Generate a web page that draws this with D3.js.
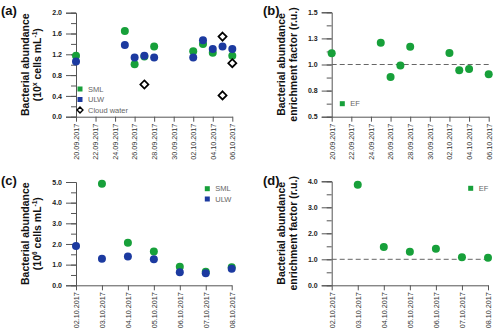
<!DOCTYPE html>
<html>
<head>
<meta charset="utf-8">
<script src="https://cdn.jsdelivr.net/npm/d3@7"></script>
<style>
  body { margin: 0; background: #fff; }
  svg { font-family: 'Liberation Sans', Arial, sans-serif; }
</style>
</head>
<body>
<svg id="chart"></svg>
<script>
// panel (a) / (b): 20.09 - 06.10.2017
const datesA = ['2017-09-20', '2017-09-25', '2017-09-26', '2017-09-27', '2017-09-28', '2017-10-02', '2017-10-03', '2017-10-04', '2017-10-05', '2017-10-06']
const smlA = [1.17, 1.65, 1.01, 1.16, 1.35, 1.26, 1.40, 1.23, null, 1.17]
const ulwA = [1.06, 1.38, 1.14, 1.17, 1.14, 1.14, 1.47, 1.30, 1.35, 1.30]
const cloudDates = ['2017-09-27', '2017-10-05', '2017-10-05', '2017-10-06']
const cloudA = [0.62, 1.54, 0.41, 1.03]
const efDatesB = ['2017-09-20', '2017-09-25', '2017-09-26', '2017-09-27', '2017-09-28', '2017-10-02', '2017-10-03', '2017-10-04', '2017-10-06']
const efB = [1.107, 1.209, 0.88, 0.99, 1.17, 1.11, 0.944, 0.957, 0.906]
const ticksA = ['2017-09-20', '2017-09-22', '2017-09-24', '2017-09-26', '2017-09-28', '2017-09-30', '2017-10-02', '2017-10-04', '2017-10-06']

// panel (c) / (d): 02.10 - 08.10.2017
const datesC = ['2017-10-02', '2017-10-03', '2017-10-04', '2017-10-05', '2017-10-06', '2017-10-07', '2017-10-08']
const smlC = [null, 4.92, 2.06, 1.63, 0.90, 0.65, 0.87]
const ulwC = [1.90, 1.29, 1.39, 1.26, 0.63, 0.58, 0.80]
const efDatesD = ['2017-10-03', '2017-10-04', '2017-10-05', '2017-10-06', '2017-10-07', '2017-10-08']
const efD = [3.87, 1.47, 1.29, 1.41, 1.08, 1.06]

const yTicksA = [0, 0.4, 0.8, 1.2, 1.6, 2.0]
const yTicksB = [0.5, 0.75, 1.0, 1.25, 1.5]
const yTicksC = [0, 1, 2, 3, 4, 5]
const yTicksD = [0, 1, 2, 3, 4]

const colours = {
  green: '#17a03a',
  blue: '#1c3aa0',
  axis: '#555555',
  text: '#333333',
  legend: '#666666'
}

const width = 500
const height = 336
const parse = d3.timeParse('%Y-%m-%d')
const fmtDate = d3.timeFormat('%d.%m.%Y')
const fmtY = d3.format('.1f')

const svg = d3.select('#chart')
  .attr('width', width)
  .attr('height', height)

const drawPanel = (p) => {
  const g = svg.append('g')
  const x = d3.scaleTime().domain(p.xDomain.map(parse)).range([p.left, p.right])
  const y = d3.scaleLinear().domain(p.yDomain).range([p.bottom, p.top])

  // minor y ticks
  const minor = d3.range(p.yDomain[0], p.yDomain[1] + 1e-9, p.yMinor)
  g.append('g')
    .attr('transform', `translate(${p.left},0)`)
    .call(d3.axisLeft(y).tickValues(minor).tickSize(5).tickFormat(''))
    .call(a => a.select('.domain').remove())
    .call(a => a.selectAll('line').attr('stroke', colours.axis))

  // major y ticks
  g.append('g')
    .attr('transform', `translate(${p.left},0)`)
    .call(d3.axisLeft(y).tickValues(p.yTicks).tickSize(10).tickPadding(4).tickFormat(fmtY))
    .call(a => a.select('.domain').attr('stroke', colours.axis))
    .call(a => a.selectAll('line').attr('stroke', colours.axis))
    .call(a => a.selectAll('text').attr('font-size', 7).attr('font-weight', 'bold').attr('fill', '#222'))

  // x axis
  g.append('g')
    .attr('transform', `translate(0,${p.bottom})`)
    .call(d3.axisBottom(x).tickValues(p.xTicks.map(parse)).tickSize(5).tickSizeOuter(0).tickFormat(fmtDate))
    .call(a => a.select('.domain').attr('stroke', colours.axis))
    .call(a => a.selectAll('line').attr('stroke', colours.axis))
    .call(a => a.selectAll('text')
      .attr('font-size', 7.2)
      .attr('fill', colours.text)
      .attr('text-anchor', 'end')
      .attr('transform', 'rotate(-90)')
      .attr('x', -7)
      .attr('y', 0)
      .attr('dy', '0.32em'))

  if (p.refLine != null) {
    g.append('line')
      .attr('x1', p.left).attr('x2', p.right)
      .attr('y1', y(p.refLine)).attr('y2', y(p.refLine))
      .attr('stroke', '#666').attr('stroke-width', 1)
      .attr('stroke-dasharray', '5,3')
  }

  // series
  p.series.forEach(s => {
    const pts = s.dates.map((d, i) => ({ d: parse(d), v: s.values[i] })).filter(o => o.v != null)
    if (s.shape === 'diamond') {
      g.append('g').selectAll('path')
        .data(pts).enter().append('path')
        .attr('d', d3.symbol(d3.symbolDiamond2, 42))
        .attr('transform', o => `translate(${x(o.d)},${y(o.v)})`)
        .attr('fill', '#fff').attr('stroke', '#000').attr('stroke-width', 1.7)
    } else {
      g.append('g').selectAll('circle')
        .data(pts).enter().append('circle')
        .attr('cx', o => x(o.d)).attr('cy', o => y(o.v))
        .attr('r', 4).attr('fill', s.colour)
    }
  })

  // legend
  p.legend.forEach((l, i) => {
    const ly = p.legendY + i * p.legendGap
    if (l.shape === 'diamond') {
      g.append('path')
        .attr('d', d3.symbol(d3.symbolDiamond2, 22))
        .attr('transform', `translate(${p.legendX},${ly})`)
        .attr('fill', '#fff').attr('stroke', '#000').attr('stroke-width', 1.4)
    } else {
      g.append('rect')
        .attr('x', p.legendX - 2.5).attr('y', ly - 2.5)
        .attr('width', 5).attr('height', 5)
        .attr('fill', l.colour)
    }
    g.append('text')
      .attr('x', p.legendX + 8).attr('y', ly)
      .attr('dy', '0.35em')
      .attr('font-size', 7.5)
      .attr('fill', colours.legend)
      .text(l.label)
  })

  // y title
  const cy = (p.top + p.bottom) / 2
  const t = g.append('text')
    .attr('transform', `translate(${p.titleX},${cy}) rotate(-90)`)
    .attr('text-anchor', 'middle')
    .attr('font-size', 10.5)
    .attr('font-weight', 'bold')
    .attr('fill', '#111')
  t.append('tspan').attr('x', 0).attr('dy', 0).text(p.title[0])
  const t2 = t.append('tspan').attr('x', 0).attr('dy', 12)
  if (p.title.length > 2) {
    t2.text(p.title[1])
    t2.append('tspan').attr('font-size', 6.5).attr('dy', -4).text(p.title[2])
    t2.append('tspan').attr('dy', 4).text(' cells mL')
    t2.append('tspan').attr('font-size', 6.5).attr('dy', -4).text('-1')
    t2.append('tspan').attr('dy', 4).text(')')
  } else {
    t2.text(p.title[1])
  }

  // panel label
  svg.append('text')
    .attr('x', p.labelX).attr('y', p.labelY)
    .attr('font-size', 13).attr('font-weight', 'bold')
    .attr('fill', '#111')
    .text(p.label)
}

drawPanel({
  label: '(a)', labelX: 1, labelY: 15,
  left: 76, right: 232.3, top: 12.7, bottom: 116.7,
  xDomain: ['2017-09-20', '2017-10-06'], xTicks: ticksA,
  yDomain: [0, 2], yTicks: yTicksA, yMinor: 0.2,
  titleX: 28.5, title: ['Bacterial abundance', '(10', 'x'],
  series: [
    { dates: datesA, values: smlA, colour: colours.green },
    { dates: datesA, values: ulwA, colour: colours.blue },
    { dates: cloudDates, values: cloudA, shape: 'diamond' }
  ],
  legendX: 80, legendY: 89, legendGap: 10.5,
  legend: [
    { label: 'SML', colour: colours.green },
    { label: 'ULW', colour: colours.blue },
    { label: 'Cloud water', shape: 'diamond' }
  ]
})

drawPanel({
  label: '(b)', labelX: 263, labelY: 15,
  left: 331.7, right: 488.7, top: 12.3, bottom: 116.7,
  xDomain: ['2017-09-20', '2017-10-06'], xTicks: ticksA,
  yDomain: [0.5, 1.5], yTicks: yTicksB, yMinor: 0.125,
  titleX: 285, title: ['Bacterial abundance', 'enrichment factor (r.u.)'],
  refLine: 1.0,
  series: [
    { dates: efDatesB, values: efB, colour: colours.green }
  ],
  legendX: 342.3, legendY: 103.7, legendGap: 10,
  legend: [
    { label: 'EF', colour: colours.green }
  ]
})

drawPanel({
  label: '(c)', labelX: 1, labelY: 185,
  left: 76, right: 231.7, top: 182, bottom: 285.3,
  xDomain: ['2017-10-02', '2017-10-08'], xTicks: datesC,
  yDomain: [0, 5], yTicks: yTicksC, yMinor: 0.5,
  titleX: 28.5, title: ['Bacterial abundance', '(10', '6'],
  series: [
    { dates: datesC, values: smlC, colour: colours.green },
    { dates: datesC, values: ulwC, colour: colours.blue }
  ],
  legendX: 207.3, legendY: 188.7, legendGap: 10.3,
  legend: [
    { label: 'SML', colour: colours.green },
    { label: 'ULW', colour: colours.blue }
  ]
})

drawPanel({
  label: '(d)', labelX: 263, labelY: 185,
  left: 331.7, right: 488, top: 181.3, bottom: 285.3,
  xDomain: ['2017-10-02', '2017-10-08'], xTicks: datesC,
  yDomain: [0, 4], yTicks: yTicksD, yMinor: 0.5,
  titleX: 285, title: ['Bacterial abundance', 'enrichment factor (r.u.)'],
  refLine: 1.0,
  series: [
    { dates: efDatesD, values: efD, colour: colours.green }
  ],
  legendX: 470.7, legendY: 188.3, legendGap: 10,
  legend: [
    { label: 'EF', colour: colours.green }
  ]
})
</script>
</body>
</html>
